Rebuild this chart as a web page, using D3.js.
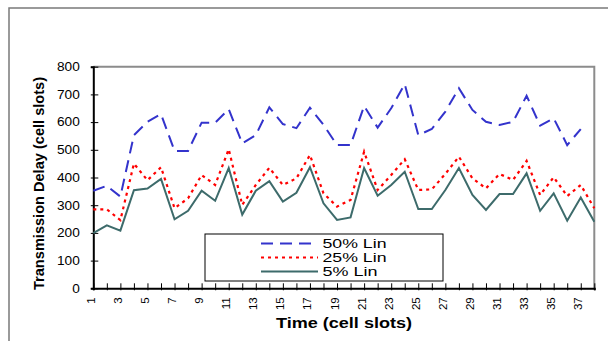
<!DOCTYPE html>
<html><head><meta charset="utf-8">
<script src="https://cdn.jsdelivr.net/npm/d3@7"></script>
<style>body{margin:0;background:#fff;} svg{display:block;}</style>
</head><body>
<svg id="c" width="608" height="341"></svg>
<script>
const categories = [1,2,3,4,5,6,7,8,9,10,11,12,13,14,15,16,17,18,19,20,21,22,23,24,25,26,27,28,29,30,31,32,33,34,35,36,37,38];
const tickLabels = [1,3,5,7,9,11,13,15,17,19,21,23,25,27,29,31,33,35,37];
const yTicks = [0,100,200,300,400,500,600,700,800];
const seriesNames = ["50% Lin","25% Lin","5% Lin"];
const lin50 = [352,370,331,553,601,629,496,496,598,598,647,523,553,653,593,578,652,590,517,517,658,580,650,737,553,575,638,722,644,601,590,601,695,587,614,517,575];
const lin25 = [285,285,246,450,390,437,289,325,409,373,502,301,373,435,373,397,481,343,295,319,493,355,409,466,355,357,413,475,397,361,413,391,460,337,401,333,373,289];
const lin5  = [199,227,208,354,360,395,249,280,352,316,434,266,352,387,313,345,437,307,247,256,434,334,373,421,286,286,355,434,337,283,340,340,415,280,343,244,328,240];

const svg = d3.select("#c");
const FONT = "'Liberation Sans', Arial, sans-serif";
const L = 93.3, R = 594.3, T = 66.7, B = 288.3;
const x = d3.scalePoint().domain(categories).range([L, R]);
const y = d3.scaleLinear().domain([0, 800]).range([B, T]);

// outer frame
svg.append("rect").attr("x", 9).attr("y", 8).attr("width", 640).attr("height", 400)
  .attr("fill", "none").attr("stroke", "#7a7a7a").attr("stroke-width", 1.5);

// plot area top/right border
svg.append("path").attr("d", `M${L},${T}H${R}V${B}`).attr("fill", "none")
  .attr("stroke", "#8c8c8c").attr("stroke-width", 2);

// y axis
const yAxis = svg.append("g").attr("transform", `translate(${L},0)`)
  .call(d3.axisLeft(y).tickValues(yTicks).tickSize(2.5).tickPadding(11));
yAxis.select(".domain").attr("stroke", "#000").attr("stroke-width", 2);
yAxis.selectAll(".tick line").attr("x1", 5).attr("x2", -2.5).attr("stroke", "#000").attr("stroke-width", 1);
yAxis.selectAll(".tick text").attr("font-family", FONT).attr("font-size", 12).attr("fill", "#000")
  .attr("textLength", d => String(d).length * 7.6).attr("lengthAdjust", "spacingAndGlyphs");

// x axis
const xAxis = svg.append("g").attr("transform", `translate(0,${B})`)
  .call(d3.axisBottom(x).tickValues(categories).tickSize(2).tickFormat(""));
xAxis.select(".domain").attr("stroke", "#000").attr("stroke-width", 2);
xAxis.selectAll(".tick line").attr("y1", -5).attr("y2", 2).attr("stroke", "#000").attr("stroke-width", 1);
svg.append("g").selectAll("text").data(tickLabels).join("text")
  .attr("transform", d => `translate(${x(d) + 1.5},${B + 9}) rotate(-90)`)
  .attr("text-anchor", "end")
  .attr("font-family", FONT).attr("font-size", 11.5).attr("fill", "#000")
  .text(d => d);

// lines
const line = d3.line().x((d, i) => x(categories[i])).y(d => y(d));
const styles = [
  {data: lin50, color: "#3333cc", dash: "12,7", w: 2},
  {data: lin25, color: "#ff0000", dash: "3,4", w: 2.2},
  {data: lin5,  color: "#3d6b6b", dash: null, w: 2}
];
styles.forEach(s => {
  svg.append("path").datum(s.data).attr("d", line).attr("fill", "none")
    .attr("stroke", s.color).attr("stroke-width", s.w)
    .attr("stroke-dasharray", s.dash).attr("stroke-linejoin", "miter");
});

// legend
const lg = svg.append("g");
lg.append("rect").attr("x", 205).attr("y", 234).attr("width", 238).attr("height", 47)
  .attr("fill", "#fff").attr("stroke", "#000").attr("stroke-width", 1);
const ly = [243.5, 257.5, 271.5];
styles.forEach((s, i) => {
  lg.append("line").attr("x1", 261).attr("x2", 318).attr("y1", ly[i]).attr("y2", ly[i])
    .attr("stroke", s.color).attr("stroke-width", s.w).attr("stroke-dasharray", s.dash);
  lg.append("text").attr("x", 322.5).attr("y", ly[i] + 4.5)
    .attr("font-family", FONT).attr("font-size", 13).attr("fill", "#000")
    .attr("textLength", i === 2 ? 55 : 64).attr("lengthAdjust", "spacingAndGlyphs")
    .text(seriesNames[i]);
});

// axis titles
svg.append("text").attr("x", 344).attr("y", 328).attr("text-anchor", "middle")
  .attr("font-family", FONT).attr("font-size", 14.5).attr("font-weight", "bold")
  .attr("textLength", 136).attr("lengthAdjust", "spacingAndGlyphs")
  .text("Time (cell slots)");
svg.append("text").attr("transform", "translate(43.5,183.5) rotate(-90)").attr("text-anchor", "middle")
  .attr("font-family", FONT).attr("font-size", 14.5).attr("font-weight", "bold")
  .attr("textLength", 213).attr("lengthAdjust", "spacingAndGlyphs")
  .text("Transmission Delay (cell slots)");
</script>
</body></html>
